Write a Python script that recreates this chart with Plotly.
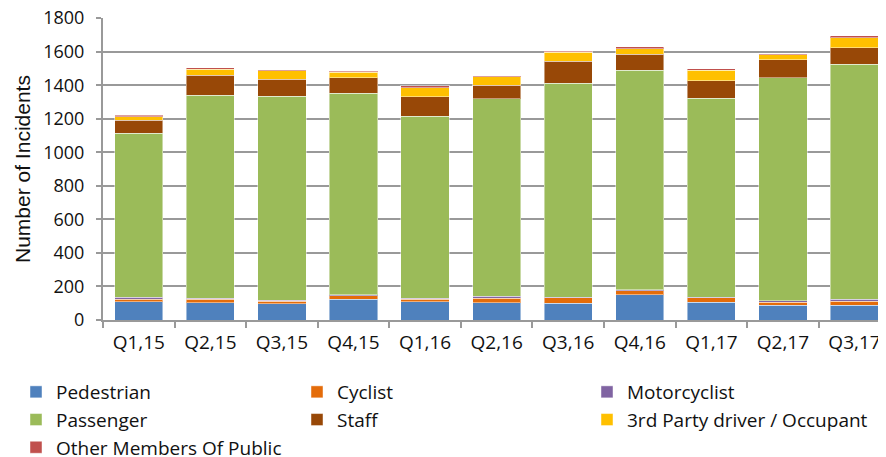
import plotly.graph_objects as go

quarters = ["Q1,15", "Q2,15", "Q3,15", "Q4,15", "Q1,16", "Q2,16", "Q3,16", "Q4,16", "Q1,17", "Q2,17", "Q3,17"]

pedestrian   = [110, 103,  97, 125, 109, 103,   99,  151, 107,   87,   87]
cyclist      = [ 15,  20,  16,  20,  14,  26,   34,   24,  26,   20,   26]
motorcyclist = [ 10,   6,   6,   6,   8,  12,    4,    6,   3,    8,   10]
passenger    = [978,1212,1216,1202,1085,1178, 1276, 1307,1185, 1329, 1401]
staff        = [ 78, 119, 101,  91, 115,  81,  131,   97, 107,  107,  101]
third_party  = [ 22,  36,  50,  34,  55,  50,   52,   32,  60,   32,   58]
other_public = [  8,   8,   4,   6,  10,   8,    6,   14,  10,    6,   12]

y_ticks = [0, 200, 400, 600, 800, 1000, 1200, 1400, 1600, 1800]

# (name, values, colour, legend column)
series = [
    ("Pedestrian", pedestrian, "#4F81BD", "legend"),
    ("Cyclist", cyclist, "#E46C0A", "legend2"),
    ("Motorcyclist", motorcyclist, "#8064A2", "legend3"),
    ("Passenger", passenger, "#9BBB59", "legend"),
    ("Staff", staff, "#984807", "legend2"),
    ("3rd Party driver / Occupant", third_party, "#FFC000", "legend3"),
    ("Other Members Of Public", other_public, "#C0504D", "legend"),
]

fig = go.Figure()
for name, vals, color, leg in series:
    fig.add_trace(go.Bar(
        x=quarters, y=vals, name=name, legendgroup=name,
        marker=dict(color=color, line=dict(color="rgba(255,255,255,0.45)", width=1)),
        legend=leg,
    ))

# page body has an 8px margin, so the figure is drawn 8px in from the window corner
OFF = 8
W, H = 886 - OFF, 457 - OFF
L, T = 103 - OFF, 18 - OFF
B = H - T - 302
legfont = dict(family="'Open Sans', Lato, sans-serif", size=19, color="#111")

def leg(xpix):
    return dict(orientation="v", x=xpix / W, xref="container", xanchor="left",
                y=1 - 365 / H, yref="container", yanchor="top",
                font=legfont, tracegroupgap=3,
                bgcolor="rgba(0,0,0,0)", traceorder="normal", itemclick=False)

fig.update_layout(
    width=W, height=H,
    margin=dict(l=L, r=0, t=T, b=B, autoexpand=False),
    barmode="stack", bargap=0.327,
    plot_bgcolor="white", paper_bgcolor="white",
    legend=leg(8), legend2=leg(289), legend3=leg(579),
    font=dict(family="'Open Sans', Lato, sans-serif", size=18, color="#111"),
)

fig.update_xaxes(
    type="category", range=[-0.5, 10.44],
    showline=True, linecolor="#999999", linewidth=2,
    ticks="outside", tickson="boundaries", ticklen=6, tickcolor="#999999", tickwidth=2,
    showgrid=False, tickfont=dict(size=19, color="#111"), ticklabelstandoff=4,
)
fig.update_yaxes(
    range=[0, 1801], tickvals=y_ticks,
    showline=True, linecolor="#999999", linewidth=2, mirror=False,
    ticks="outside", ticklen=5, tickcolor="#999999", tickwidth=2,
    showgrid=True, gridcolor="#999999", gridwidth=2,
    tickfont=dict(size=18, color="#111"), ticklabelstandoff=8, zeroline=False,
    ticklabeloverflow="allow",
)

fig.add_annotation(
    text="Number of Incidents", textangle=-90, showarrow=False,
    xref="paper", x=0, xshift=22 - 103, xanchor="center",
    yref="paper", y=0.5, yanchor="middle",
    font=dict(family="Liberation Sans, Arial, sans-serif", size=21, color="#111"),
)

fig.write_html("out.html")
